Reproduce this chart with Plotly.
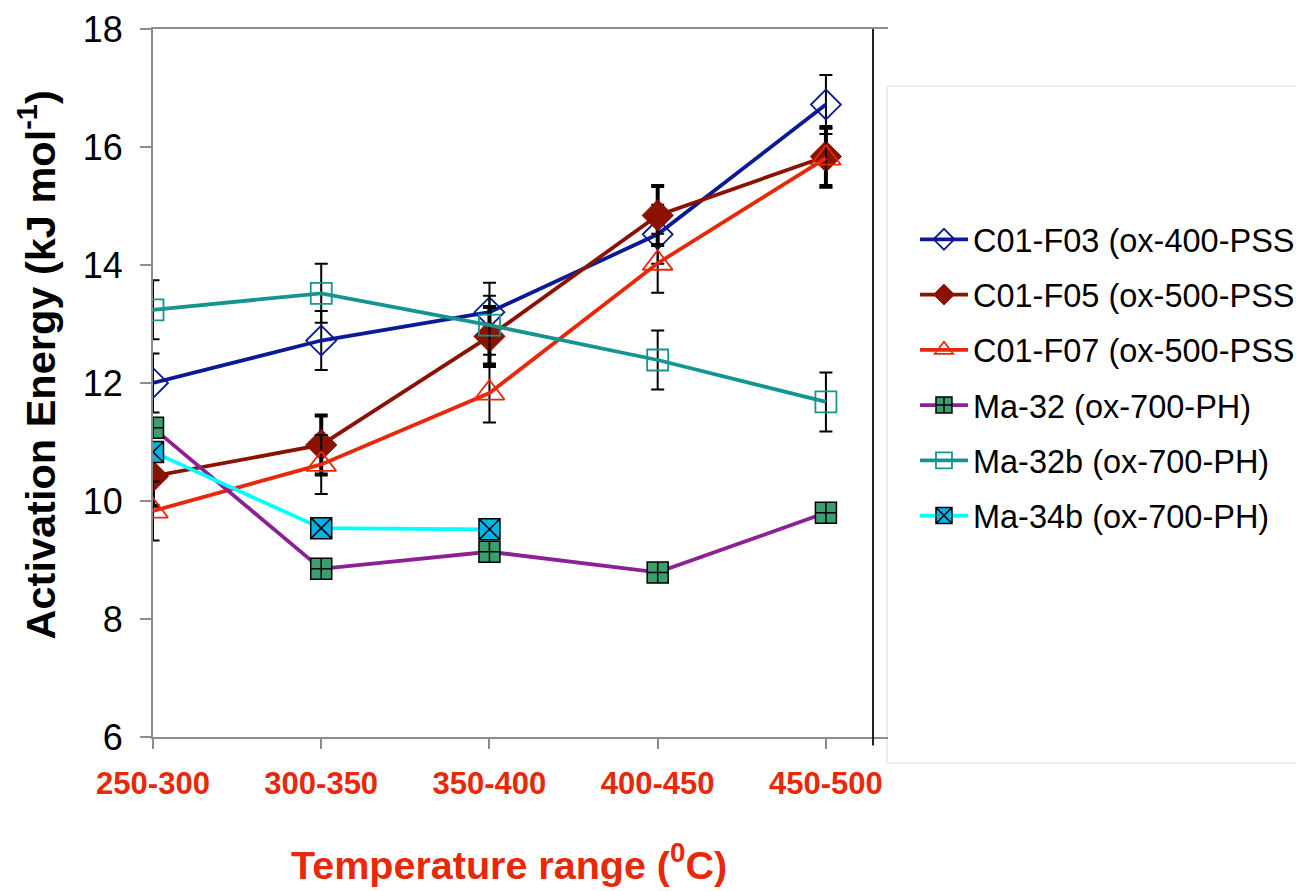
import plotly.graph_objects as go

categories = ["250-300", "300-350", "350-400", "400-450", "450-500"]

c01_f03 = [12.0, 12.72, 13.2, 14.52, 16.72]
c01_f05 = [10.42, 10.95, 12.79, 14.84, 15.84]
c01_f07 = [9.83, 10.62, 11.83, 14.03, 15.81]
ma_32 = [11.24, 8.85, 9.14, 8.79, 9.8]
ma_32b = [13.24, 13.52, 12.98, 12.39, 11.68]
ma_34b = [10.83, 9.54, 9.52]

err_c01_f03 = [0.5, 0.5, 0.5, 0.5, 0.5]
err_c01_f05 = [0.5, 0.5, 0.5, 0.5, 0.5]
err_c01_f07 = [0.5, 0.5, 0.5, 0.5, 0.5]
err_ma_32b = [0.5, 0.5, 0.5, 0.5, 0.5]

# legend labels as visible in the reference (cut at the right edge there)
names = [
    "C01-F03 (ox-400-PSS",
    "C01-F05 (ox-500-PSS",
    "C01-F07 (ox-500-PSS",
    "Ma-32 (ox-700-PH)",
    "Ma-32b (ox-700-PH)",
    "Ma-34b (ox-700-PH)",
]

FONT = "Liberation Sans, Arial, sans-serif"
RED = "#E8280A"

fig = go.Figure()

def eb(arr, thick=2.0):
    return dict(type="data", array=arr, visible=True, color="black",
                thickness=thick, width=6.5)

fig.add_trace(go.Scatter(
    x=categories, y=c01_f03, name=names[0], mode="lines+markers",
    line=dict(color="#0A1A96", width=3.8),
    marker=dict(symbol="diamond-open", size=23, color="#0A1A96",
                line=dict(color="#0A1A96", width=1.8)),
    error_y=eb(err_c01_f03), legendgroup="a"))

fig.add_trace(go.Scatter(
    x=categories, y=c01_f05, name=names[1], mode="lines+markers",
    line=dict(color="#8B1200", width=3.8),
    marker=dict(symbol="diamond", size=24, color="#8B1200",
                line=dict(color="#8B1200", width=1)),
    error_y=eb(err_c01_f05, 4), legendgroup="b"))

fig.add_trace(go.Scatter(
    x=categories, y=c01_f07, name=names[2], mode="lines+markers",
    line=dict(color=RED, width=3.8),
    marker=dict(symbol="triangle-up-open", size=26, color=RED,
                line=dict(color=RED, width=1.8)),
    error_y=eb(err_c01_f07), legendgroup="c"))

fig.add_trace(go.Scatter(
    x=categories, y=ma_32, name=names[3], mode="lines+markers",
    line=dict(color="#8E2096", width=3.8),
    marker=dict(symbol="square-cross", size=21, color="#3A9E6E",
                line=dict(color="black", width=1.5)),
    legendgroup="d"))

fig.add_trace(go.Scatter(
    x=categories, y=ma_32b, name=names[4], mode="lines+markers",
    line=dict(color="#169494", width=3.8),
    marker=dict(symbol="square-open", size=21, color="#169494",
                line=dict(color="#169494", width=1.8)),
    error_y=eb(err_ma_32b), legendgroup="e"))

fig.add_trace(go.Scatter(
    x=categories[:len(ma_34b)], y=ma_34b, name=names[5], mode="lines+markers",
    line=dict(color="#00FFFF", width=3.8),
    marker=dict(symbol="square-x", size=21, color="#00B4E6",
                line=dict(color="black", width=1.5)),
    legendgroup="f"))

fig.update_layout(
    width=1296, height=891,
    margin=dict(l=153, r=408, t=29, b=154, autoexpand=False),
    paper_bgcolor="white", plot_bgcolor="white",
    font=dict(family=FONT, color="black"),
    showlegend=True,
    legend=dict(x=1.0367, y=0.742, xanchor="left", yanchor="top",
                bgcolor="rgba(0,0,0,0)", borderwidth=0,
                font=dict(size=32.5, family=FONT, color="black"),
                tracegroupgap=10, traceorder="grouped", itemwidth=48),
    xaxis=dict(type="category", range=[0, 4.369], showgrid=False,
               showline=True, linecolor="#8C8C8C", linewidth=2, mirror=True,
               ticks="outside", ticklen=10, tickcolor="#8C8C8C", tickwidth=1.5,
               tickfont=dict(size=31, color=RED, family="Liberation Sans, Arial", weight="bold"),
               ticklabelstandoff=8, zeroline=False),
    yaxis=dict(range=[6, 18], dtick=2, tick0=6, showgrid=False,
               showline=True, linecolor="#8C8C8C", linewidth=2,
               ticks="outside", ticklen=11, tickcolor="#8C8C8C", tickwidth=1.5,
               tickfont=dict(size=36, color="black", family=FONT),
               ticklabelstandoff=10, zeroline=False),
)

fig.update_layout(shapes=[
    dict(type="rect", xref="paper", yref="paper", x0=0.9986, x1=1.6,
         y0=-0.0367, y1=0.9195, line=dict(color="#DCDCDC", width=1),
         fillcolor="white", layer="below"),
    dict(type="line", xref="paper", yref="paper", x0=0.9796, x1=0.9796,
         y0=-0.012, y1=1.0, line=dict(color="#222222", width=2)),
])

fig.add_annotation(
    text="<b>Activation Energy (kJ mol<sup>-1</sup>)</b>",
    xref="paper", yref="paper", x=-0.158, y=0.526,
    xanchor="center", yanchor="middle", textangle=-90, showarrow=False,
    font=dict(size=41.5, color="black", family=FONT))

fig.add_annotation(
    text="<b>Temperature range (<sup>0</sup>C)</b>",
    xref="paper", yref="paper", x=0.484, y=-0.176,
    xanchor="center", yanchor="middle", showarrow=False,
    font=dict(size=39.5, color=RED, family=FONT))

fig.write_html("out.html")
